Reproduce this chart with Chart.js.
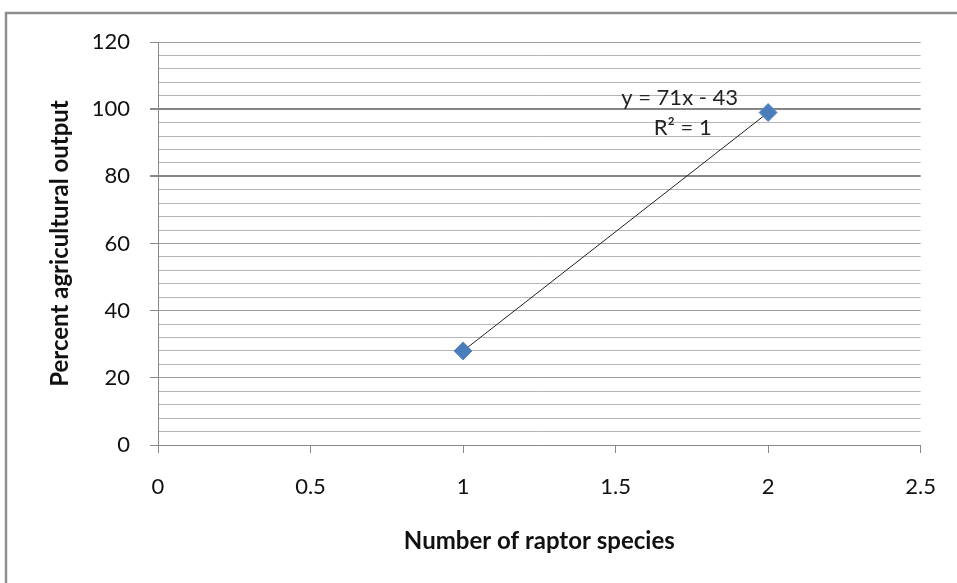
<!DOCTYPE html>
<html>
<head>
<meta charset="utf-8">
<script src="https://cdn.jsdelivr.net/npm/chart.js@4/dist/chart.umd.min.js"></script>
<style>
  html, body { margin: 0; padding: 0; background: #fff; }
  #wrap { width: 957px; height: 583px; }
</style>
</head>
<body>
<div id="wrap"><canvas id="chart-canvas" width="957" height="583"></canvas></div>
<script>
// raptor species vs agricultural output
const raptorSpecies = [1, 2];
const agriOutput = [28, 99];

// linear trendline y = 71x - 43 (same two points)
const trendX = [1, 2];
const trendY = [28, 99];
const trendText = ['y = 71x - 43', 'R\u00b2 = 1'];

const xTicks = [0, 0.5, 1, 1.5, 2, 2.5];
const yMajor = [0, 20, 40, 60, 80, 100, 120];

const FONT = 'Lato, "Open Sans", sans-serif';

// grey frame like the pasted Excel chart (top + left edge only)
const framePlugin = {
  id: 'frame',
  beforeDraw(chart) {
    const ctx = chart.ctx;
    ctx.save();
    ctx.fillStyle = '#fff';
    ctx.fillRect(0, 0, chart.width, chart.height);
    ctx.strokeStyle = '#8f8f8f';
    ctx.lineWidth = 2.5;
    ctx.beginPath();
    ctx.moveTo(6, chart.height);
    ctx.lineTo(6, 13);
    ctx.lineTo(chart.width, 13);
    ctx.stroke();
    ctx.restore();
  }
};

// trendline equation label
const equationPlugin = {
  id: 'equation',
  afterDatasetsDraw(chart) {
    const {ctx, scales: {x, y}} = chart;
    ctx.save();
    ctx.font = '22px ' + FONT;
    ctx.fillStyle = '#222';
    ctx.textAlign = 'center';
    ctx.textBaseline = 'middle';
    ctx.fillText(trendText[0], x.getPixelForValue(1.71), y.getPixelForValue(103.3));
    ctx.fillText(trendText[1], x.getPixelForValue(1.72), y.getPixelForValue(94.4));
    ctx.restore();
  }
};

function gridColor(ctx) {
  const v = ctx.tick.value;
  if (v === 100 || v === 80) return '#858585';
  if (yMajor.includes(v)) return '#9c9c9c';
  return '#b5b5b5';
}

new Chart(document.getElementById('chart-canvas'), {
  type: 'scatter',
  plugins: [framePlugin, equationPlugin],
  data: {
    datasets: [
      {
        label: 'Trend',
        type: 'line',
        data: trendX.map((v, i) => ({ x: v, y: trendY[i] })),
        borderColor: '#222',
        borderWidth: 1,
        pointRadius: 0,
        fill: false,
        order: 2
      },
      {
        label: 'Percent agricultural output',
        data: raptorSpecies.map((v, i) => ({ x: v, y: agriOutput[i] })),
        pointStyle: 'rectRot',
        pointRadius: 9,
        pointBackgroundColor: '#4a7ebb',
        pointBorderColor: '#5b8cc6',
        pointBorderWidth: 1,
        order: 1
      }
    ]
  },
  options: {
    responsive: false,
    animation: false,
    events: [],
    layout: { padding: { left: 0, top: 42, right: 35, bottom: 0 } },
    plugins: {
      legend: { display: false },
      tooltip: { enabled: false }
    },
    scales: {
      x: {
        type: 'linear',
        min: 0,
        max: 2.5,
        afterFit(scale) { scale.height = 138; },
        afterBuildTicks(axis) { axis.ticks = xTicks.map(v => ({ value: v })); },
        ticks: {
          font: { family: FONT, size: 22 },
          color: '#111',
          padding: 21,
          maxRotation: 0,
          callback: v => String(v)
        },
        grid: {
          drawOnChartArea: false,
          tickLength: 8,
          tickColor: '#888'
        },
        border: { color: '#888', width: 1 },
        title: {
          display: true,
          text: 'Number of raptor species',
          font: { family: FONT, size: 24, weight: 'bold' },
          color: '#111',
          padding: { top: 0, bottom: 27 }
        }
      },
      y: {
        type: 'linear',
        min: 0,
        max: 120,
        afterFit(scale) { scale.width = 158; },
        ticks: {
          stepSize: 4,
          autoSkip: false,
          font: { family: FONT, size: 22 },
          color: '#111',
          padding: 20,
          callback: v => (v % 20 === 0 ? String(v) : '')
        },
        grid: {
          color: gridColor,
          lineWidth: ctx => (ctx.tick.value === 100 || ctx.tick.value === 80 ? 2 : 1),
          tickLength: 8,
          tickColor: ctx => (ctx.tick.value % 20 === 0 ? '#888' : 'rgba(0,0,0,0)')
        },
        border: { color: '#888', width: 1 },
        title: {
          display: true,
          text: 'Percent agricultural output',
          font: { family: FONT, size: 24, weight: 'bold' },
          color: '#111',
          padding: { top: 46, bottom: 0 }
        }
      }
    }
  }
});
</script>
</body>
</html>
